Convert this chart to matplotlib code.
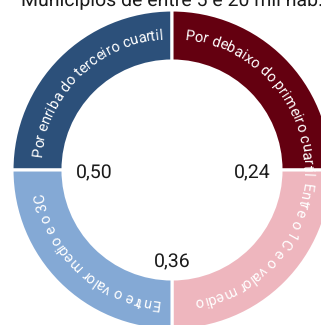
import numpy as np
import matplotlib
matplotlib.use('Agg')
import matplotlib.pyplot as plt
from matplotlib import font_manager as fm
from matplotlib.ft2font import FT2Font

# Data
title = 'Municípios de entre 5 e 20 mil hab.'
categories = ['Por enriba do terceiro cuartil',
              'Por debaixo do primeiro cuartil',
              'Entre o 1C e o valor medio',
              'Entre o valor medio e o 3C']
shares = [1, 1, 1, 1]
colors = ['#2c507a', '#640010', '#eeb6be', '#84a9d5']
thresholds = [0.24, 0.36, 0.50]   # Q1, mediana, Q3
threshold_angles = [0, -90, 180]  # boundary where each value sits

plt.rcParams['font.family'] = ['Roboto', 'DejaVu Sans']
plt.rcParams['text.hinting'] = 'no_hinting'
dpi = 100
W, H = 321, 325
cx, cy = 172, 170          # centre in pixels from the top-left
R_OUT, RING = 160, 51
R_TEXT = 131               # baseline radius of the curved labels
FS_ARC = 10.5

fig = plt.figure(figsize=(W / dpi, H / dpi), dpi=dpi)
ax = fig.add_axes([0, 0, 1, 1])

ax.pie(shares, colors=colors, startangle=180, counterclock=False,
       radius=R_OUT, center=(0, 0),
       wedgeprops=dict(width=RING, edgecolor='white', linewidth=2.2))
ax.set_xlim(-cx, W - cx)
ax.set_ylim(-(H - cy), cy)
ax.set_aspect('equal')
ax.axis('off')

# curved labels, reading clockwise with the letter tops outward
fp = fm.FontProperties(family='Roboto', size=FS_ARC)
ft = FT2Font(fm.findfont(fp))
ft.set_size(FS_ARC, dpi)

def advance(c):
    return ft.load_char(ord(c)).linearHoriAdvance / 65536

pad = 5.5
for i, label in enumerate(categories):
    start = 180 - 90 * i - pad
    pos = 0.0
    for c in label:
        adv = advance(c)
        ang = start - np.degrees((pos + adv / 2) / R_TEXT)
        pos += adv
        if c == ' ':
            continue
        t = np.radians(ang)
        # glyph centre on the arc, then step back half an advance along the tangent
        gx = R_TEXT * np.cos(t) - adv / 2 * np.sin(t)
        gy = R_TEXT * np.sin(t) + adv / 2 * np.cos(t)
        ax.text(gx, gy, c, rotation=ang - 90, rotation_mode='anchor',
                ha='left', va='baseline', color='white', fontproperties=fp)

# threshold values inside the hole
label_r = [80, 89, 78]
for v, a, r in zip(thresholds, threshold_angles, label_r):
    t = np.radians(a)
    ax.text(r * np.cos(t), r * np.sin(t) - 3, f'{v:.2f}'.replace('.', ','),
            ha='center', va='center', fontsize=14, color='#1a1a1a')

ax.text(0, cy - 6, title, ha='center', va='baseline', fontsize=14,
        color='#1a1a1a')

fig.savefig('out.png', dpi=dpi)
